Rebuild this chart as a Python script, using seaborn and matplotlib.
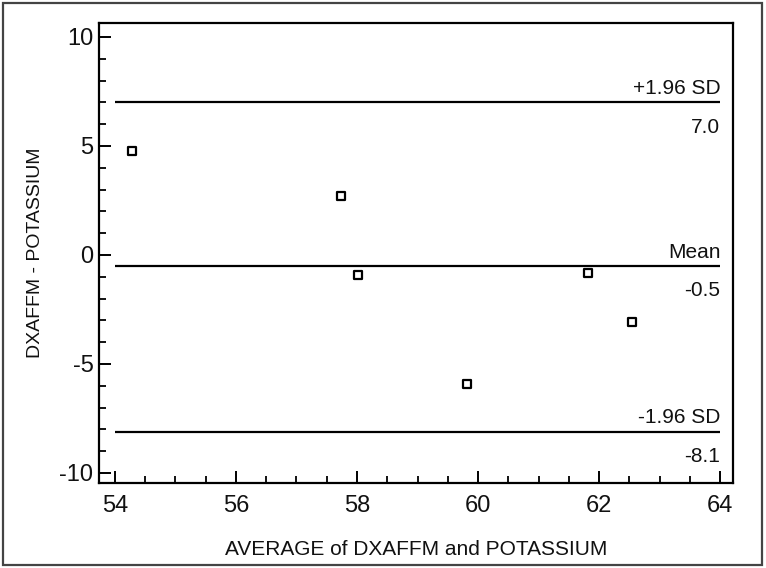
import matplotlib
matplotlib.use("Agg")
import matplotlib.pyplot as plt
from matplotlib.ticker import MultipleLocator
from matplotlib.patches import Rectangle
import numpy as np
import pandas as pd
import seaborn as sns

# Bland-Altman data: average of the two methods vs. their difference
average = [54.29, 57.73, 58.01, 59.81, 61.81, 62.55]
difference = [4.78, 2.72, -0.92, -5.93, -0.81, -3.06]

# Reference lines (value, caption above, caption below)
ref_values = [7.0, -0.5, -8.1]
ref_names = ["+1.96 SD", "Mean", "-1.96 SD"]
ref_texts = ["7.0", "-0.5", "-8.1"]

x_label = "AVERAGE of DXAFFM and POTASSIUM"
y_label = "DXAFFM - POTASSIUM"
x_ticks = [54, 56, 58, 60, 62, 64]
y_ticks = [-10, -5, 0, 5, 10]

sns.set_theme(style="white")
plt.rcParams["font.family"] = ["Liberation Sans", "DejaVu Sans"]
plt.rcParams["axes.unicode_minus"] = False
plt.rcParams["text.color"] = "#111111"
plt.rcParams["axes.labelcolor"] = "#111111"
plt.rcParams["xtick.labelcolor"] = "#111111"
plt.rcParams["ytick.labelcolor"] = "#111111"

fig = plt.figure(figsize=(7.66, 5.68), dpi=100)
ax = fig.add_axes([99 / 766, 1 - 483 / 568, (733 - 99) / 766, (483 - 23) / 568])

df = pd.DataFrame({"avg": average, "diff": difference})
sns.scatterplot(data=df, x="avg", y="diff", ax=ax, marker="s", s=30,
                facecolor="white", edgecolor="black", linewidth=1.6, zorder=3)

x0, x1 = x_ticks[0], x_ticks[-1]
for v, name, txt in zip(ref_values, ref_names, ref_texts):
    ax.hlines(v, x0, x1, color="black", linewidth=1.6, zorder=2)
    ax.annotate(name, xy=(x1, v), xytext=(0, 3), textcoords="offset points",
                ha="right", va="bottom", fontsize=15)
    ax.annotate(txt, xy=(x1, v), xytext=(0, -11), textcoords="offset points",
                ha="right", va="top", fontsize=15)

ax.set_xlim(53.74, 64.21)
ax.set_ylim(-10.46, 10.64)
ax.set_xticks(x_ticks)
ax.set_yticks(y_ticks)
ax.xaxis.set_minor_locator(MultipleLocator(0.5))
ax.yaxis.set_minor_locator(MultipleLocator(1))
ax.tick_params(which="major", direction="in", length=8.6, width=1.4,
               labelsize=17, color="black", bottom=True, left=True)
ax.tick_params(which="minor", direction="in", length=4.8, width=1.3,
               color="black", bottom=True, left=True)
ax.tick_params(axis="x", pad=9)
ax.tick_params(axis="y", pad=4)

for sp in ax.spines.values():
    sp.set_visible(True)
    sp.set_color("black")
    sp.set_linewidth(1.6)

ax.set_xlabel(x_label, fontsize=15, labelpad=16)
ax.set_ylabel(y_label, fontsize=14, labelpad=11)

# Outer frame around the whole figure
fig.patches.append(Rectangle((3 / 766, 3 / 568), 759 / 766, 562 / 568,
                             transform=fig.transFigure, fill=False,
                             edgecolor="#444444", linewidth=1.6))

fig.savefig("out.png", dpi=100)
